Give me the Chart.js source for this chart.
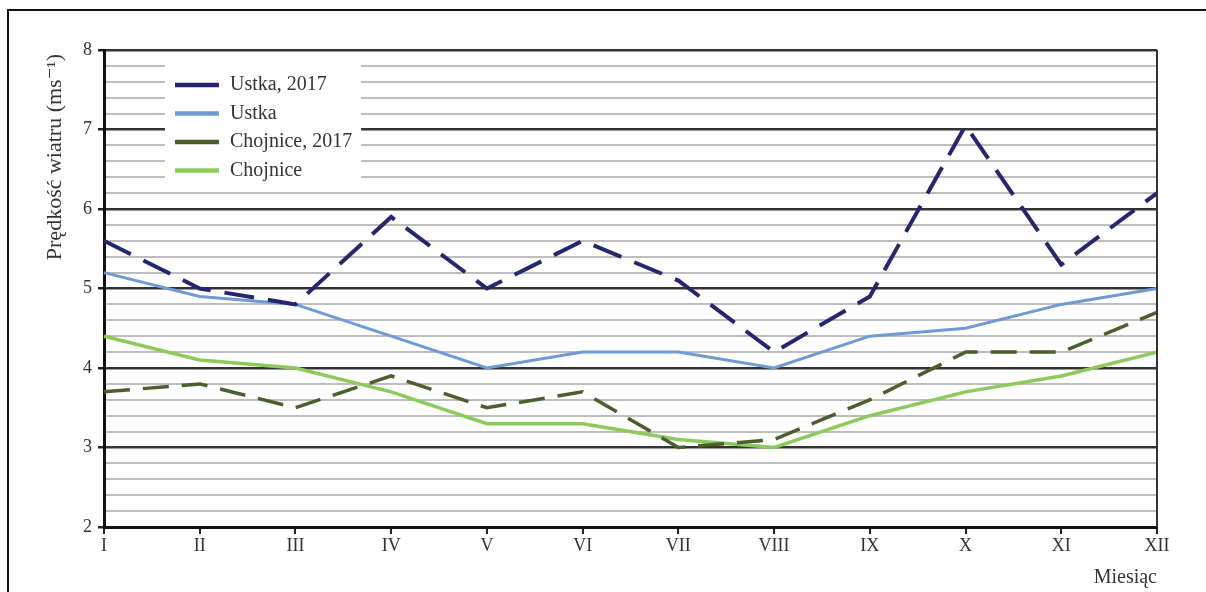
<!DOCTYPE html>
<html>
<head>
<meta charset="utf-8">
<script src="https://cdn.jsdelivr.net/npm/chart.js@4.4.1/dist/chart.umd.min.js"></script>
<style>
html,body{margin:0;padding:0;background:#fff;}
#wrap{position:relative;width:1206px;height:592px;}
</style>
</head>
<body>
<div id="wrap"><canvas id="c" width="1206" height="592"></canvas></div>
<script>
const months = ['I','II','III','IV','V','VI','VII','VIII','IX','X','XI','XII'];
const ustka2017 = [5.6, 5.0, 4.8, 5.9, 5.0, 5.6, 5.1, 4.2, 4.9, 7.05, 5.3, 6.2];
const ustka = [5.2, 4.9, 4.8, 4.4, 4.0, 4.2, 4.2, 4.0, 4.4, 4.5, 4.8, 5.0];
const chojnice2017 = [3.7, 3.8, 3.5, 3.9, 3.5, 3.7, 3.0, 3.1, 3.6, 4.2, 4.2, 4.7];
const chojnice = [4.4, 4.1, 4.0, 3.7, 3.3, 3.3, 3.1, 3.0, 3.4, 3.7, 3.9, 4.2];
const seriesLabels = ['Ustka, 2017', 'Ustka', 'Chojnice, 2017', 'Chojnice'];
const yTitle = 'Prędkość wiatru (ms⁻¹)';
const xTitle = 'Miesiąc';

const SERIF = '"Liberation Serif", "DejaVu Serif", serif';
const isMajor = v => Math.abs(v - Math.round(v)) < 1e-6;

const decor = {
  id: 'decor',
  beforeDraw(chart) {
    const ctx = chart.ctx;
    ctx.save();
    ctx.strokeStyle = '#111';
    ctx.lineWidth = 2;
    ctx.beginPath();
    ctx.moveTo(8, 592); ctx.lineTo(8, 10); ctx.lineTo(1206, 10);
    ctx.stroke();
    ctx.restore();
  },
  afterDatasetsDraw(chart) {
    const ctx = chart.ctx;
    const a = chart.chartArea;
    ctx.save();
    // right border
    ctx.strokeStyle = '#333';
    ctx.lineWidth = 2;
    ctx.beginPath();
    ctx.moveTo(a.right, a.top); ctx.lineTo(a.right, a.bottom);
    ctx.stroke();
    // legend
    const lx = 165, ly = 63, lw = 196, lh = 120;
    ctx.fillStyle = '#fff';
    ctx.fillRect(lx, ly, lw, lh);
    ctx.font = '20px ' + SERIF;
    ctx.textBaseline = 'middle';
    chart.data.datasets.forEach((ds, i) => {
      const y = 85 + i * 28.5;
      ctx.strokeStyle = ds.borderColor;
      ctx.lineWidth = 4.5;
      ctx.setLineDash([]);
      ctx.beginPath();
      ctx.moveTo(175, y); ctx.lineTo(219, y);
      ctx.stroke();
      ctx.fillStyle = '#333';
      ctx.textAlign = 'left';
      ctx.fillText(ds.label, 230, y);
    });
    // y title
    ctx.save();
    ctx.translate(55, 157);
    ctx.rotate(-Math.PI / 2);
    ctx.textAlign = 'center';
    ctx.textBaseline = 'middle';
    ctx.fillStyle = '#333';
    ctx.font = '22px ' + SERIF;
    ctx.fillText(yTitle, 0, 0);
    ctx.restore();
    // x title
    ctx.textAlign = 'right';
    ctx.textBaseline = 'middle';
    ctx.fillStyle = '#333';
    ctx.font = '20px ' + SERIF;
    ctx.fillText(xTitle, a.right, 578);
    ctx.restore();
  }
};

new Chart(document.getElementById('c'), {
  type: 'line',
  data: {
    labels: months,
    datasets: [
      { label: seriesLabels[0], data: ustka2017, borderColor: '#262670', borderWidth: 4, borderDash: [30, 14] },
      { label: seriesLabels[1], data: ustka, borderColor: '#6f9ad6', borderWidth: 3 },
      { label: seriesLabels[2], data: chojnice2017, borderColor: '#4b5e2c', borderWidth: 3.5, borderDash: [26, 13] },
      { label: seriesLabels[3], data: chojnice, borderColor: '#8dca5c', borderWidth: 3.5 }
    ]
  },
  options: {
    responsive: false,
    animation: false,
    events: [],
    layout: { padding: { top: 50, right: 49, left: 0, bottom: 0 } },
    elements: { point: { radius: 0 }, line: { tension: 0 } },
    plugins: { legend: { display: false }, tooltip: { enabled: false } },
    scales: {
      x: {
        offset: false,
        afterFit(s) { s.height = 65; },
        grid: { drawOnChartArea: false, drawTicks: true, tickLength: 7, color: '#222', lineWidth: 2 },
        border: { color: '#111', width: 3 },
        ticks: { color: '#333', font: { family: SERIF, size: 18 }, padding: 1, maxRotation: 0, autoSkip: false }
      },
      y: {
        min: 2, max: 8,
        afterFit(s) { s.width = 104; },
        afterBuildTicks(s) {
          const t = [];
          for (let i = 0; i <= 30; i++) t.push({ value: Math.round((2 + i * 0.2) * 10) / 10 });
          s.ticks = t;
        },
        grid: {
          color: c => isMajor(c.tick.value) ? '#333' : '#bdbdbd',
          lineWidth: c => isMajor(c.tick.value) ? 2.5 : 2,
          tickColor: c => isMajor(c.tick.value) ? '#222' : 'rgba(0,0,0,0)',
          tickLength: 6
        },
        border: { color: '#111', width: 3 },
        ticks: {
          color: '#333', font: { family: SERIF, size: 18 }, padding: 6, autoSkip: false,
          callback: v => isMajor(v) ? String(Math.round(v)) : ''
        }
      }
    }
  },
  plugins: [decor]
});
</script>
</body>
</html>
